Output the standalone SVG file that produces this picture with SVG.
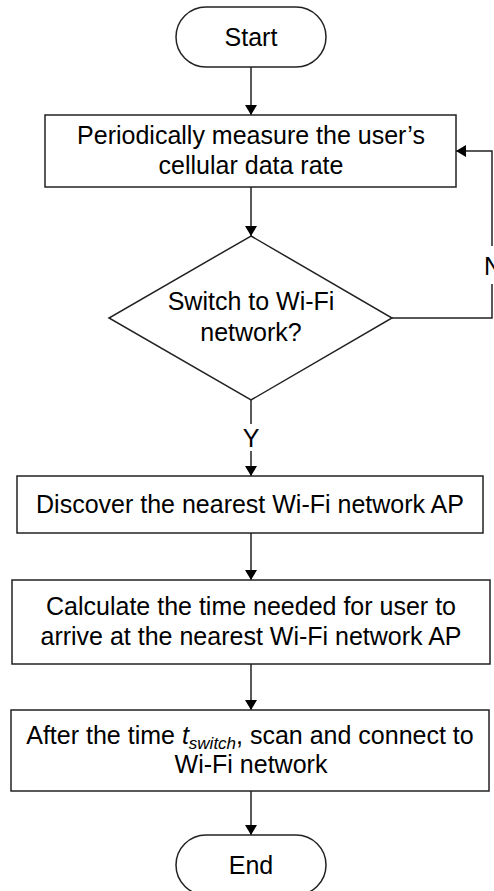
<svg xmlns="http://www.w3.org/2000/svg" width="494" height="891" viewBox="0 0 494 891">
<defs>
<marker id="arr" markerWidth="10" markerHeight="12" refX="10" refY="6" orient="auto" markerUnits="userSpaceOnUse">
<path d="M0,0 L10,6 L0,12 Z" fill="#000"/>
</marker>
</defs>
<style>
.shape{fill:#fff;stroke:#222;stroke-width:1.5}
.t{font-family:"Liberation Sans",Arial,sans-serif;font-size:25px;fill:#000;text-anchor:middle}
.c{fill:none;stroke:#222;stroke-width:1.5}
</style>
<rect width="494" height="891" fill="#fff"/>
<g id="connectors">
<line class="c" x1="251" y1="67" x2="251" y2="115" marker-end="url(#arr)"/>
<line class="c" x1="251" y1="187" x2="251" y2="236" marker-end="url(#arr)"/>
<line class="c" x1="251" y1="400" x2="251" y2="424"/>
<line class="c" x1="251" y1="451" x2="251" y2="476" marker-end="url(#arr)"/>
<text class="t" x="251" y="447">Y</text>
<polyline class="c" points="392,318 492,318 492,284"/>
<polyline class="c" points="492,246 492,151 456,151" marker-end="url(#arr)"/>
<text class="t" x="484" y="275" style="text-anchor:start">N</text>
<line class="c" x1="251" y1="533" x2="251" y2="580" marker-end="url(#arr)"/>
<line class="c" x1="251" y1="664" x2="251" y2="710" marker-end="url(#arr)"/>
<line class="c" x1="251" y1="791" x2="251" y2="835" marker-end="url(#arr)"/>
</g>
<g id="start">
<rect class="shape" x="176" y="7" width="150" height="60" rx="30" ry="30"/>
<text class="t" x="251" y="46">Start</text>
</g>
<g id="measure">
<rect class="shape" x="45" y="115" width="411" height="72"/>
<text class="t" x="251" y="144">Periodically measure the user’s</text>
<text class="t" x="251" y="174">cellular data rate</text>
</g>
<g id="decision">
<polygon class="shape" points="251,236 392,318 251,400 109,318"/>
<text class="t" x="251" y="310">Switch to Wi-Fi</text>
<text class="t" x="251" y="341">network?</text>
</g>
<g id="discover">
<rect class="shape" x="17" y="476" width="466" height="57"/>
<text class="t" x="250" y="513">Discover the nearest Wi-Fi network AP</text>
</g>
<g id="calculate">
<rect class="shape" x="12" y="580" width="478" height="84"/>
<text class="t" x="251" y="615">Calculate the time needed for user to</text>
<text class="t" x="251" y="645">arrive at the nearest Wi-Fi network AP</text>
</g>
<g id="connect">
<rect class="shape" x="11" y="710" width="478" height="81"/>
<text class="t" x="250" y="744">After the time <tspan font-style="italic">t</tspan><tspan font-style="italic" font-size="17" dy="5">switch</tspan><tspan dy="-5">, scan and connect to</tspan></text>
<text class="t" x="251" y="773">Wi-Fi network</text>
</g>
<g id="end">
<rect class="shape" x="176" y="835" width="150" height="60" rx="30" ry="30"/>
<text class="t" x="251" y="874">End</text>
</g>
</svg>
